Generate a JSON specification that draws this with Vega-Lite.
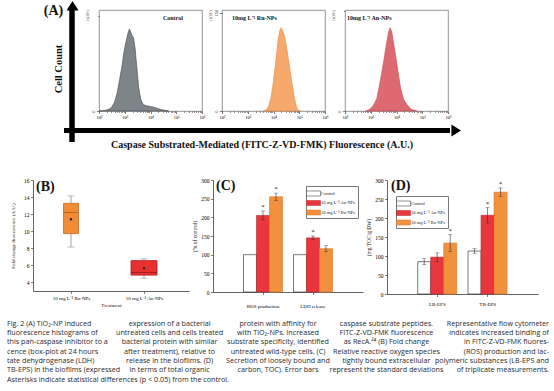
{
"$schema":"https://vega.github.io/schema/vega-lite/v6.json",
"autosize":{"type":"pad"},
"padding":{"left":6,"top":1,"right":0,"bottom":0},
"background":"white",
"spacing":10,
"resolve":{"scale":{"color":"independent","fill":"independent","stroke":"independent","size":"independent"},"legend":{"color":"independent","fill":"independent","stroke":"independent","size":"independent"}},
"config":{
 "view":{"stroke":null},
 "font":"Liberation Serif",
 "axis":{"labelFont":"Liberation Serif","titleFont":"Liberation Serif","labelFontSize":5.5,"titleFontSize":5.5,"titleFontWeight":"normal","labelColor":"#000","titleColor":"#111","tickColor":"#222","domainColor":"#222","tickWidth":0.6,"domainWidth":0.7,"tickSize":2.5,"grid":false,"labelOverlap":false,"labelFlush":false,"labelPadding":1.5,"labelSeparation":0},
 "title":{"font":"Liberation Serif","fontWeight":"bold","fontSize":14,"color":"#111"}
},
"datasets":{
 "hist":[
  {"sample":"Control","fl":100,"count":0},{"sample":"Control","fl":141,"count":0.3},{"sample":"Control","fl":186,"count":1},{"sample":"Control","fl":251,"count":2.5},{"sample":"Control","fl":316,"count":5},{"sample":"Control","fl":398,"count":11},{"sample":"Control","fl":501,"count":22},{"sample":"Control","fl":631,"count":40},{"sample":"Control","fl":794,"count":58},{"sample":"Control","fl":933,"count":75},{"sample":"Control","fl":1122,"count":88},{"sample":"Control","fl":1318,"count":98},{"sample":"Control","fl":1514,"count":104},{"sample":"Control","fl":1660,"count":101},{"sample":"Control","fl":1905,"count":96},{"sample":"Control","fl":2188,"count":93},{"sample":"Control","fl":2512,"count":80},{"sample":"Control","fl":2951,"count":55},{"sample":"Control","fl":3467,"count":30},{"sample":"Control","fl":4169,"count":15},{"sample":"Control","fl":5012,"count":9},{"sample":"Control","fl":6310,"count":7},{"sample":"Control","fl":8913,"count":6},{"sample":"Control","fl":12589,"count":5},{"sample":"Control","fl":17783,"count":3.5},{"sample":"Control","fl":25119,"count":2},{"sample":"Control","fl":35481,"count":0.8},{"sample":"Control","fl":50119,"count":0},
  {"sample":"Ru","fl":3981,"count":0},{"sample":"Ru","fl":5012,"count":1},{"sample":"Ru","fl":6310,"count":6},{"sample":"Ru","fl":7943,"count":20},{"sample":"Ru","fl":9550,"count":40},{"sample":"Ru","fl":12023,"count":72},{"sample":"Ru","fl":14791,"count":106},{"sample":"Ru","fl":17378,"count":122},{"sample":"Ru","fl":19498,"count":127},{"sample":"Ru","fl":21380,"count":124},{"sample":"Ru","fl":23988,"count":120},{"sample":"Ru","fl":26915,"count":114},{"sample":"Ru","fl":33113,"count":94},{"sample":"Ru","fl":41687,"count":68},{"sample":"Ru","fl":52481,"count":42},{"sample":"Ru","fl":64565,"count":20},{"sample":"Ru","fl":75858,"count":8},{"sample":"Ru","fl":89125,"count":1},{"sample":"Ru","fl":112202,"count":0},
  {"sample":"An","fl":631,"count":0},{"sample":"An","fl":794,"count":1},{"sample":"An","fl":1122,"count":5},{"sample":"An","fl":1413,"count":11},{"sample":"An","fl":1738,"count":18},{"sample":"An","fl":2239,"count":38},{"sample":"An","fl":3162,"count":69},{"sample":"An","fl":3981,"count":92},{"sample":"An","fl":5012,"count":112},{"sample":"An","fl":5754,"count":117},{"sample":"An","fl":6607,"count":110},{"sample":"An","fl":7943,"count":92},{"sample":"An","fl":9120,"count":79},{"sample":"An","fl":11482,"count":55},{"sample":"An","fl":14454,"count":32},{"sample":"An","fl":19055,"count":16},{"sample":"An","fl":26303,"count":8},{"sample":"An","fl":35481,"count":3},{"sample":"An","fl":46774,"count":1},{"sample":"An","fl":63096,"count":0}
 ]
},
"vconcat":[
 {"spacing":27,
  "resolve":{"scale":{"color":"independent","fill":"independent","stroke":"independent","size":"independent"},"legend":{"color":"independent","fill":"independent","stroke":"independent","size":"independent"}},
  "vconcat":[
 {"spacing":20,"bounds":"flush","hconcat":[
  {"width":46,"height":141,
   "layer":[
    {"data":{"values":[{}]},"mark":{"type":"rule","strokeWidth":5.5,"color":"#000"},
     "encoding":{"x":{"datum":39,"type":"quantitative","scale":{"domain":[0,46],"nice":false,"zero":false},"axis":null},
                 "y":{"datum":9,"type":"quantitative","scale":{"domain":[0,141],"nice":false,"zero":false},"axis":null},
                 "y2":{"datum":141}}},
    {"data":{"values":[{}]},"mark":{"type":"rule","strokeWidth":5,"color":"#000"},
     "encoding":{"x":{"datum":31,"type":"quantitative","axis":null},"x2":{"datum":417},"y":{"datum":20.5,"type":"quantitative","axis":null}}},
    {"data":{"values":[{}]},"mark":{"type":"point","shape":"M0,-1L1,0.6L-1,0.6Z","size":144,"filled":true,"color":"#000","opacity":1,"strokeWidth":0},
     "encoding":{"x":{"datum":39.5,"type":"quantitative","axis":null},"y":{"datum":144,"type":"quantitative","axis":null}}},
    {"data":{"values":[{}]},"mark":{"type":"point","shape":"M1,0L-0.6,-1L-0.6,1Z","size":144,"filled":true,"color":"#000","opacity":1,"strokeWidth":0},
     "encoding":{"x":{"datum":422,"type":"quantitative","axis":null},"y":{"datum":20.5,"type":"quantitative","axis":null}}},
    {"data":{"values":[{}]},"mark":{"type":"text","text":"Cell Count","angle":270,"fontSize":10.5,"fontWeight":"bold","font":"Liberation Serif","align":"center","baseline":"middle","color":"#111"},
     "encoding":{"x":{"datum":26,"type":"quantitative","axis":null},"y":{"datum":82,"type":"quantitative","axis":null}}},
    {"data":{"values":[{}]},"mark":{"type":"text","text":"(A)","fontSize":14,"fontWeight":"bold","font":"Liberation Serif","align":"center","baseline":"middle","color":"#111"},
     "encoding":{"x":{"datum":20.5,"type":"quantitative","axis":null},"y":{"datum":140.5,"type":"quantitative","axis":null}}},
    {"data":{"values":[{}]},"mark":{"type":"text","text":"Caspase Substrated-Mediated (FITC-Z-VD-FMK) Fluorescence (A.U.)","fontSize":10,"fontWeight":"bold","font":"Liberation Serif","align":"center","baseline":"middle","color":"#111"},
     "encoding":{"x":{"datum":229,"type":"quantitative","axis":null},"y":{"datum":6,"type":"quantitative","axis":null}}}
   ]},
  {"width":103,"height":101,"view":{"stroke":"#777","strokeWidth":0.8},
   "layer":[
    {"data":{"name":"hist"},"transform":[{"filter":"datum.sample==='Control'"}],
     "mark":{"type":"area","fill":"#7e8588","stroke":"#3f4446","strokeWidth":0.6,"fillOpacity":1},
     "encoding":{
      "x":{"field":"fl","type":"quantitative","scale":{"type":"log","domain":[100,1000000],"nice":false},
           "axis":{"title":null,"domain":false,"labelOverlap":false,"values":[100,200,300,400,500,600,700,800,900,1000,2000,3000,4000,5000,6000,7000,8000,9000,10000,20000,30000,40000,50000,60000,70000,80000,90000,100000,200000,300000,400000,500000,600000,700000,800000,900000,1000000],
                   "labelExpr":"datum.value==100?'10²':datum.value==1000?'10³':datum.value==10000?'10⁴':datum.value==100000?'10⁵':datum.value==1000000?'10⁶':''",
                   "tickSize":{"condition":{"test":"indexof([100,1000,10000,100000,1000000],datum.value)>=0","value":2.5},"value":1.3},"labelFontSize":4.5,"labelPadding":1}},
      "y":{"field":"count","type":"quantitative","scale":{"domain":[0,128],"nice":false},
           "axis":{"title":"(x10¹)","titleAnchor":"end","titleFontSize":4,"titlePadding":1,"domain":false,"labelOverlap":false,"values":[0,10,20,30,40,50,60,70,80,90,100,110,120],
                   "labelExpr":"datum.value%50==0?datum.label:''","labelAngle":270,"labelFontSize":4.5,
                   "tickSize":{"condition":{"test":"datum.value%50==0","value":2.5},"value":1.3}}}}},
    {"data":{"values":[{}]},"mark":{"type":"text","text":"Control","fontSize":6,"fontWeight":"bold","font":"Liberation Serif","align":"center","baseline":"middle","color":"#111"},
     "encoding":{"x":{"datum":74000,"type":"quantitative"},"y":{"datum":118,"type":"quantitative"}}}
   ]},
  {"width":103,"height":101,"view":{"stroke":"#777","strokeWidth":0.8},
   "layer":[
    {"data":{"name":"hist"},"transform":[{"filter":"datum.sample==='Ru'"}],
     "mark":{"type":"area","fill":"#f6a96c","stroke":"#e8853e","strokeWidth":0.6,"fillOpacity":1},
     "encoding":{
      "x":{"field":"fl","type":"quantitative","scale":{"type":"log","domain":[100,1000000],"nice":false},
           "axis":{"title":null,"domain":false,"labelOverlap":false,"values":[100,200,300,400,500,600,700,800,900,1000,2000,3000,4000,5000,6000,7000,8000,9000,10000,20000,30000,40000,50000,60000,70000,80000,90000,100000,200000,300000,400000,500000,600000,700000,800000,900000,1000000],
                   "labelExpr":"datum.value==100?'10²':datum.value==1000?'10³':datum.value==10000?'10⁴':datum.value==100000?'10⁵':datum.value==1000000?'10⁶':''",
                   "tickSize":{"condition":{"test":"indexof([100,1000,10000,100000,1000000],datum.value)>=0","value":2.5},"value":1.3},"labelFontSize":4.5,"labelPadding":1}},
      "y":{"field":"count","type":"quantitative","scale":{"domain":[0,154],"nice":false},
           "axis":{"title":"(x10¹)","titleAnchor":"end","titleFontSize":4,"titlePadding":1,"domain":false,"labelOverlap":false,"values":[0,10,20,30,40,50,60,70,80,90,100,110,120,130,140,150],
                   "labelExpr":"datum.value%50==0?datum.label:''","labelAngle":270,"labelFontSize":4.5,
                   "tickSize":{"condition":{"test":"datum.value%50==0","value":2.5},"value":1.3}}}}},
    {"data":{"values":[{}]},"mark":{"type":"text","text":"10mg L⁻¹ Ru-NPs","fontSize":6,"fontWeight":"bold","font":"Liberation Serif","align":"left","baseline":"middle","color":"#111"},
     "encoding":{"x":{"datum":245,"type":"quantitative"},"y":{"datum":142,"type":"quantitative"}}}
   ]},
  {"width":103,"height":101,"view":{"stroke":"#777","strokeWidth":0.8},
   "layer":[
    {"data":{"name":"hist"},"transform":[{"filter":"datum.sample==='An'"}],
     "mark":{"type":"area","fill":"#dc6a70","stroke":"#c2454d","strokeWidth":0.6,"fillOpacity":1},
     "encoding":{
      "x":{"field":"fl","type":"quantitative","scale":{"type":"log","domain":[100,1000000],"nice":false},
           "axis":{"title":null,"domain":false,"labelOverlap":false,"values":[100,200,300,400,500,600,700,800,900,1000,2000,3000,4000,5000,6000,7000,8000,9000,10000,20000,30000,40000,50000,60000,70000,80000,90000,100000,200000,300000,400000,500000,600000,700000,800000,900000,1000000],
                   "labelExpr":"datum.value==100?'10²':datum.value==1000?'10³':datum.value==10000?'10⁴':datum.value==100000?'10⁵':datum.value==1000000?'10⁶':''",
                   "tickSize":{"condition":{"test":"indexof([100,1000,10000,100000,1000000],datum.value)>=0","value":2.5},"value":1.3},"labelFontSize":4.5,"labelPadding":1}},
      "y":{"field":"count","type":"quantitative","scale":{"domain":[0,142],"nice":false},
           "axis":{"title":"(x10¹)","titleAnchor":"end","titleFontSize":4,"titlePadding":1,"domain":false,"labelOverlap":false,"values":[0,10,20,30,40,50,60,70,80,90,100,110,120,130,140],
                   "labelExpr":"datum.value%50==0?datum.label:''","labelAngle":270,"labelFontSize":4.5,
                   "tickSize":{"condition":{"test":"datum.value%50==0","value":2.5},"value":1.3}}}}},
    {"data":{"values":[{}]},"mark":{"type":"text","text":"10mg L⁻¹ An-NPs","fontSize":6,"fontWeight":"bold","font":"Liberation Serif","align":"left","baseline":"middle","color":"#111"},
     "encoding":{"x":{"datum":120,"type":"quantitative"},"y":{"datum":131,"type":"quantitative"}}}
   ]}
 ]},
 {"spacing":24,"bounds":"flush",
  "resolve":{"scale":{"color":"independent","fill":"independent","stroke":"independent","size":"independent"},"legend":{"color":"independent","fill":"independent","stroke":"independent","size":"independent"}},
  "hconcat":[
  {"width":156,"height":111,
   "title":{"text":"(B)","anchor":"start","frame":"group","offset":-16,"dx":3},
   "data":{"values":[
     {"treatment":"10 mg L⁻¹ Ru-NPs","min":8.15,"q1":9.72,"median":12.2,"q3":13.27,"max":14.14,"mean":11.4},
     {"treatment":"10 mg L⁻¹ An-NPs","min":4.5,"q1":4.86,"median":5.18,"q3":6.56,"max":6.76,"mean":5.66}]},
   "encoding":{"x":{"field":"treatment","type":"nominal","sort":null,
       "scale":{"type":"point","domain":["10 mg L⁻¹ Ru-NPs","10 mg L⁻¹ An-NPs"],"padding":0.5685,"align":0.458},
       "axis":{"title":"Treatment","labelAngle":0,"labelFontSize":5,"titleFontSize":5,"titlePadding":2,"labelPadding":2}}},
   "layer":[
    {"mark":{"type":"rule","color":"#8a8a8a","strokeWidth":0.8},
     "encoding":{"y":{"field":"min","type":"quantitative","scale":{"domain":[3,16],"nice":false,"zero":false},
        "axis":{"title":"Fold change fluorescence (A.U.)","values":[4,6,8,10,12,14,16],"titlePadding":8,"labelOverlap":false,"labelFontSize":5.5,"titleFontSize":5}},"y2":{"field":"max"}}},
    {"mark":{"type":"tick","color":"#8a8a8a","thickness":0.8,"size":7},"encoding":{"y":{"field":"min","type":"quantitative",
        "axis":{"title":"Fold change fluorescence (A.U.)","values":[4,6,8,10,12,14,16],"titlePadding":8,"labelOverlap":false,"labelFontSize":5.5,"titleFontSize":5}}}},
    {"mark":{"type":"tick","color":"#8a8a8a","thickness":0.8,"size":7},"encoding":{"y":{"field":"max","type":"quantitative",
        "axis":{"title":"Fold change fluorescence (A.U.)","values":[4,6,8,10,12,14,16],"titlePadding":8,"labelOverlap":false,"labelFontSize":5.5,"titleFontSize":5}}}},
    {"mark":{"type":"bar","strokeWidth":0.8},
     "encoding":{"y":{"field":"q1","type":"quantitative",
        "axis":{"title":"Fold change fluorescence (A.U.)","values":[4,6,8,10,12,14,16],"titlePadding":8,"labelOverlap":false,"labelFontSize":5.5,"titleFontSize":5}},"y2":{"field":"q3"},
       "fill":{"field":"treatment","type":"nominal","scale":{"domain":["10 mg L⁻¹ Ru-NPs","10 mg L⁻¹ An-NPs"],"range":["#f28b36","#e8302f"]},"legend":null},
       "stroke":{"field":"treatment","type":"nominal","scale":{"domain":["10 mg L⁻¹ Ru-NPs","10 mg L⁻¹ An-NPs"],"range":["#c9691f","#b51f25"]},"legend":null},
       "size":{"field":"treatment","type":"nominal","scale":{"domain":["10 mg L⁻¹ Ru-NPs","10 mg L⁻¹ An-NPs"],"range":[15,26]},"legend":null}}},
    {"mark":{"type":"tick","thickness":0.9},
     "encoding":{"y":{"field":"median","type":"quantitative",
        "axis":{"title":"Fold change fluorescence (A.U.)","values":[4,6,8,10,12,14,16],"titlePadding":8,"labelOverlap":false,"labelFontSize":5.5,"titleFontSize":5}},
       "color":{"field":"treatment","type":"nominal","scale":{"domain":["10 mg L⁻¹ Ru-NPs","10 mg L⁻¹ An-NPs"],"range":["#9a4d17","#7a1515"]},"legend":null},
       "size":{"field":"treatment","type":"nominal"}}},
    {"mark":{"type":"point","shape":"square","filled":true,"size":5,"color":"#222","opacity":1},"encoding":{"y":{"field":"mean","type":"quantitative",
        "axis":{"title":"Fold change fluorescence (A.U.)","values":[4,6,8,10,12,14,16],"titlePadding":8,"labelOverlap":false,"labelFontSize":5.5,"titleFontSize":5}}}}
   ]},
  {"width":150,"height":112,
   "title":{"text":"(C)","anchor":"start","frame":"group","offset":-15,"dx":3},
   "data":{"values":[
     {"metric":"ROS production","series":"Control","value":100,"lo":100,"hi":100,"sig":false},
     {"metric":"ROS production","series":"10 mg L⁻¹ An-NPs","value":205,"lo":193,"hi":217,"sig":true},
     {"metric":"ROS production","series":"10 mg L⁻¹ Ru-NPs","value":255,"lo":245,"hi":265,"sig":true},
     {"metric":"LDH release","series":"Control","value":100,"lo":100,"hi":100,"sig":false},
     {"metric":"LDH release","series":"10 mg L⁻¹ An-NPs","value":145,"lo":140,"hi":150,"sig":true},
     {"metric":"LDH release","series":"10 mg L⁻¹ Ru-NPs","value":116,"lo":108,"hi":124,"sig":false}]},
   "encoding":{
     "x":{"field":"metric","type":"nominal","sort":null,"scale":{"domain":["ROS production","LDH release"],"paddingInner":0.22,"paddingOuter":0.61},
          "axis":{"title":null,"labelAngle":0,"labelPadding":9,"labelFontSize":5}},
     "xOffset":{"field":"series","type":"nominal","sort":null,"scale":{"domain":["Control","10 mg L⁻¹ An-NPs","10 mg L⁻¹ Ru-NPs"],"paddingInner":0,"paddingOuter":0}}},
   "layer":[
    {"mark":{"type":"bar","strokeWidth":0.6},
     "encoding":{"y":{"field":"value","type":"quantitative","scale":{"domain":[0,300],"nice":false},
          "axis":{"values":[0,50,100,150,200,250,300],"title":"(% of control)","titlePadding":3,"labelOverlap":false,"labelFontSize":5.5}},
       "color":{"field":"series","type":"nominal","sort":null,"scale":{"domain":["Control","10 mg L⁻¹ An-NPs","10 mg L⁻¹ Ru-NPs"],"range":["#ffffff","#e8363c","#f3903d"]},
          "legend":{"orient":"none","legendX":93,"legendY":6,"title":null,"strokeColor":"#777","padding":2,"rowPadding":0.5,"labelFontSize":4.5,"labelFont":"Liberation Serif","labelColor":"#222","symbolType":"M-1.4,-0.5H1.4V0.5H-1.4Z","symbolSize":100,"symbolStrokeColor":"#222","symbolStrokeWidth":0.5,"labelOffset":2,"fillColor":"white"}},
       "stroke":{"field":"series","type":"nominal","scale":{"domain":["Control","10 mg L⁻¹ An-NPs","10 mg L⁻¹ Ru-NPs"],"range":["#222222","#b8262c","#d9772b"]},"legend":null}}},
    {"transform":[{"filter":"datum.hi>datum.lo"}],"mark":{"type":"rule","color":"#333","strokeWidth":0.6},
     "encoding":{"y":{"field":"lo","type":"quantitative","axis":{"values":[0,50,100,150,200,250,300],"title":"(% of control)","titlePadding":3,"labelOverlap":false,"labelFontSize":5.5}},"y2":{"field":"hi"}}},
    {"transform":[{"filter":"datum.hi>datum.lo"}],"mark":{"type":"tick","color":"#333","thickness":0.6,"size":4},
     "encoding":{"y":{"field":"hi","type":"quantitative","axis":{"values":[0,50,100,150,200,250,300],"title":"(% of control)","titlePadding":3,"labelOverlap":false,"labelFontSize":5.5}}}},
    {"transform":[{"filter":"datum.hi>datum.lo"}],"mark":{"type":"tick","color":"#333","thickness":0.6,"size":4},
     "encoding":{"y":{"field":"lo","type":"quantitative","axis":{"values":[0,50,100,150,200,250,300],"title":"(% of control)","titlePadding":3,"labelOverlap":false,"labelFontSize":5.5}}}},
    {"transform":[{"filter":"datum.sig"}],"mark":{"type":"text","text":"*","fontSize":7,"baseline":"bottom","dy":-1,"color":"#222","font":"Liberation Serif"},
     "encoding":{"y":{"field":"hi","type":"quantitative","axis":{"values":[0,50,100,150,200,250,300],"title":"(% of control)","titlePadding":3,"labelOverlap":false,"labelFontSize":5.5}}}}
   ]},
  {"width":151,"height":114,
   "title":{"text":"(D)","anchor":"start","frame":"group","offset":-15,"dx":4},
   "data":{"values":[
     {"metric":"LB-EPS","series":"Control","value":85,"lo":77,"hi":93,"sig":false},
     {"metric":"LB-EPS","series":"10 mg L⁻¹ An-NPs","value":97,"lo":86,"hi":108,"sig":false},
     {"metric":"LB-EPS","series":"10 mg L⁻¹ Ru-NPs","value":134,"lo":112,"hi":156,"sig":true},
     {"metric":"TB-EPS","series":"Control","value":113,"lo":107,"hi":119,"sig":false},
     {"metric":"TB-EPS","series":"10 mg L⁻¹ An-NPs","value":207,"lo":187,"hi":227,"sig":true},
     {"metric":"TB-EPS","series":"10 mg L⁻¹ Ru-NPs","value":268,"lo":257,"hi":279,"sig":true}]},
   "encoding":{
     "x":{"field":"metric","type":"nominal","sort":null,"scale":{"domain":["LB-EPS","TB-EPS"],"paddingInner":0.22,"paddingOuter":0.61},
          "axis":{"title":null,"labelAngle":0,"labelPadding":5,"labelFontSize":5}},
     "xOffset":{"field":"series","type":"nominal","sort":null,"scale":{"domain":["Control","10 mg L⁻¹ An-NPs","10 mg L⁻¹ Ru-NPs"],"paddingInner":0,"paddingOuter":0}}},
   "layer":[
    {"mark":{"type":"bar","strokeWidth":0.6},
     "encoding":{"y":{"field":"value","type":"quantitative","scale":{"domain":[0,300],"nice":false},
          "axis":{"values":[0,50,100,150,200,250,300],"title":"(mg TOC/g DW)","titlePadding":3,"labelOverlap":false,"labelFontSize":5.5}},
       "color":{"field":"series","type":"nominal","sort":null,"scale":{"domain":["Control","10 mg L⁻¹ An-NPs","10 mg L⁻¹ Ru-NPs"],"range":["#ffffff","#e8363c","#f3903d"]},
          "legend":{"orient":"none","legendX":9,"legendY":16,"title":null,"strokeColor":"#777","padding":2,"rowPadding":0.5,"labelFontSize":4.5,"labelFont":"Liberation Serif","labelColor":"#222","symbolType":"M-1.4,-0.5H1.4V0.5H-1.4Z","symbolSize":100,"symbolStrokeColor":"#222","symbolStrokeWidth":0.5,"labelOffset":2,"fillColor":"white"}},
       "stroke":{"field":"series","type":"nominal","scale":{"domain":["Control","10 mg L⁻¹ An-NPs","10 mg L⁻¹ Ru-NPs"],"range":["#222222","#b8262c","#d9772b"]},"legend":null}}},
    {"transform":[{"filter":"datum.hi>datum.lo"}],"mark":{"type":"rule","color":"#333","strokeWidth":0.6},
     "encoding":{"y":{"field":"lo","type":"quantitative","axis":{"values":[0,50,100,150,200,250,300],"title":"(mg TOC/g DW)","titlePadding":3,"labelOverlap":false,"labelFontSize":5.5}},"y2":{"field":"hi"}}},
    {"transform":[{"filter":"datum.hi>datum.lo"}],"mark":{"type":"tick","color":"#333","thickness":0.6,"size":4},
     "encoding":{"y":{"field":"hi","type":"quantitative","axis":{"values":[0,50,100,150,200,250,300],"title":"(mg TOC/g DW)","titlePadding":3,"labelOverlap":false,"labelFontSize":5.5}}}},
    {"transform":[{"filter":"datum.hi>datum.lo"}],"mark":{"type":"tick","color":"#333","thickness":0.6,"size":4},
     "encoding":{"y":{"field":"lo","type":"quantitative","axis":{"values":[0,50,100,150,200,250,300],"title":"(mg TOC/g DW)","titlePadding":3,"labelOverlap":false,"labelFontSize":5.5}}}},
    {"transform":[{"filter":"datum.sig"}],"mark":{"type":"text","text":"*","fontSize":7,"baseline":"bottom","dy":-1,"color":"#222","font":"Liberation Serif"},
     "encoding":{"y":{"field":"hi","type":"quantitative","axis":{"values":[0,50,100,150,200,250,300],"title":"(mg TOC/g DW)","titlePadding":3,"labelOverlap":false,"labelFontSize":5.5}}}}
   ]}
 ]}
 ]},
 {"width":516,"height":65.5,
  "data":{"values":[
    {"line":0,"seg":1,"text":"Fig. 2  (A) TiO₂-NP induced"},
    {"line":0,"seg":2,"text":"expression of a bacterial"},
    {"line":0,"seg":3,"text":"protein with affinity for"},
    {"line":0,"seg":4,"text":"caspase substrate peptides."},
    {"line":0,"seg":5,"text":"Representative flow cytometer"},
    {"line":1,"seg":1,"text":"fluorescence histograms of"},
    {"line":1,"seg":2,"text":"untreated cells and cells treated"},
    {"line":1,"seg":3,"text":"with TiO₂-NPs. Increased"},
    {"line":1,"seg":4,"text":"FITC-Z-VD-FMK fluorescence"},
    {"line":1,"seg":5,"text":"indicates increased binding of"},
    {"line":2,"seg":1,"text":"this pan-caspase inhibitor to a"},
    {"line":2,"seg":2,"text":"bacterial protein with similar"},
    {"line":2,"seg":3,"text":"substrate specificity, identified"},
    {"line":2,"seg":4,"text":"as RecA.²⁴ (B) Fold change"},
    {"line":2,"seg":5,"text":"in FITC-Z-VD-FMK fluores-"},
    {"line":3,"seg":1,"text":"cence (box-plot at 24 hours"},
    {"line":3,"seg":2,"text":"after treatment), relative to"},
    {"line":3,"seg":3,"text":"untreated wild-type cells. (C)"},
    {"line":3,"seg":4,"text":"Relative reactive oxygen species"},
    {"line":3,"seg":5,"text":"(ROS) production and lac-"},
    {"line":4,"seg":1,"text":"tate dehydrogenase (LDH)"},
    {"line":4,"seg":2,"text":"release in the biofilms. (D)"},
    {"line":4,"seg":3,"text":"Secretion of loosely bound and"},
    {"line":4,"seg":4,"text":"tightly bound extracellular"},
    {"line":4,"seg":5,"text":"polymeric substances (LB-EPS and"},
    {"line":5,"seg":1,"text":"TB-EPS) in the biofilms (expressed"},
    {"line":5,"seg":2,"text":"in terms of total organic"},
    {"line":5,"seg":3,"text":"carbon, TOC). Error bars"},
    {"line":5,"seg":4,"text":"represent the standard deviations"},
    {"line":5,"seg":5,"text":"of triplicate measurements."},
    {"line":6,"seg":1,"text":"Asterisks indicate statistical differences (p < 0.05) from the control."}]},
  "encoding":{
    "y":{"field":"line","type":"quantitative","scale":{"domain":[-0.5,6.5],"reverse":true,"nice":false,"zero":false},"axis":null},
    "text":{"field":"text"}},
  "layer":[
   {"transform":[{"filter":"datum.seg===1"}],
    "mark":{"type":"text","align":"left","baseline":"middle","font":"Open Sans","fontSize":7.2,"color":"#2a2a2a"},
    "encoding":{"x":{"datum":-0.0504,"type":"quantitative","scale":{"domain":[0,1],"nice":false,"zero":false},"axis":null}}},
   {"transform":[{"filter":"datum.seg===2"}],
    "mark":{"type":"text","align":"center","baseline":"middle","font":"Open Sans","fontSize":7.2,"color":"#2a2a2a"},
    "encoding":{"x":{"datum":0.2647,"type":"quantitative","axis":null}}},
   {"transform":[{"filter":"datum.seg===3"}],
    "mark":{"type":"text","align":"center","baseline":"middle","font":"Open Sans","fontSize":7.2,"color":"#2a2a2a"},
    "encoding":{"x":{"datum":0.4748,"type":"quantitative","axis":null}}},
   {"transform":[{"filter":"datum.seg===4"}],
    "mark":{"type":"text","align":"center","baseline":"middle","font":"Open Sans","fontSize":7.2,"color":"#2a2a2a"},
    "encoding":{"x":{"datum":0.6849,"type":"quantitative","axis":null}}},
   {"transform":[{"filter":"datum.seg===5"}],
    "mark":{"type":"text","align":"right","baseline":"middle","font":"Open Sans","fontSize":7.2,"color":"#2a2a2a"},
    "encoding":{"x":{"datum":1,"type":"quantitative","axis":null}}}
  ]}
]
}
